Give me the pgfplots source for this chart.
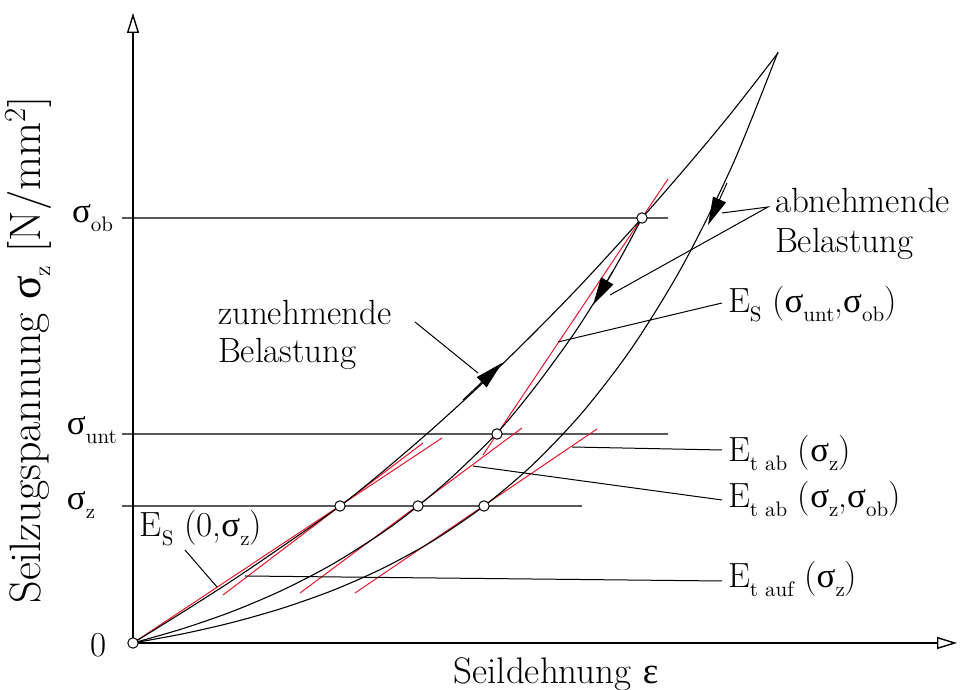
\documentclass[border=0pt]{standalone}
\usepackage{fontspec}
\usepackage{pgfplots}
\pgfplotsset{compat=1.18}
\usetikzlibrary{arrows.meta}
\newfontfamily\gr{Liberation Serif}
\definecolor{tanred}{RGB}{232,22,42}
\definecolor{levelgray}{RGB}{90,90,90}
\newcommand\sub[1]{\raisebox{-4.5pt}{\fontsize{10.5}{11}\selectfont #1}}
\newcommand\sig{{\gr σ}}
\tikzset{lbl/.style={inner sep=0pt, outer sep=0pt}}
\begin{document}
\fontsize{17.5}{18.5}\selectfont
\begin{tikzpicture}
\begin{axis}[
  scale only axis, x=0.5pt, y=0.5pt,
  xmin=-133, xmax=838, ymin=-47, ymax=643,
  hide axis, clip=false,
]
% stress levels
\addplot[levelgray, line width=0.7pt] coordinates {(-11,425)(535,425)};
\addplot[levelgray, line width=0.7pt] coordinates {(-11,209)(535,209)};
\addplot[levelgray, line width=0.7pt] coordinates {(-11,137)(449,137)};

% secant and tangent moduli
\addplot[tanred, line width=0.5pt] coordinates {(0,0)(309,205)};
\addplot[tanred, line width=0.5pt] coordinates {(90,48)(290,200)};
\addplot[tanred, line width=0.5pt] coordinates {(167,50)(389,215)};
\addplot[tanred, line width=0.5pt] coordinates {(222,50)(464,214)};
\addplot[tanred, line width=0.5pt] coordinates {(350,188)(535,464)};

% loading curve
\addplot[black, line width=0.55pt, smooth] coordinates {
  (0,0)(50,31)(100,63)(150,97)(207,137)(250,171.6)(300,214.6)(350,260.3)
  (400,309)(450,360.4)(509,425)(560,483.9)(600,532.2)(645,590)};
% unloading from sigma_ob
\addplot[black, line width=0.55pt, smooth] coordinates {
  (0,0)(50,14.4)(100,31.8)(150,53.1)(200,79.1)(250,110.7)(285,137)(320,166.9)
  (364,210)(400,253.3)(440,307.9)(470,354.9)(490,389.5)(509,425)};
% unloading from the peak
\addplot[black, line width=0.55pt, smooth] coordinates {
  (0,0)(50,9.2)(100,20.7)(150,35)(200,52.7)(250,74.8)(300,102.2)(351,137)
  (400,178.6)(450,231.3)(500,296.7)(550,378.1)(600,479.1)(645,591)};

% direction arrows
\addplot[black, line width=0.5pt, -{Triangle[length=14pt,width=7pt]}] coordinates {(330,243)(369,280)};
\addplot[black, line width=0.5pt, -{Triangle[length=14pt,width=7pt]}] coordinates {(480,372)(460,338)};
\addplot[black, line width=0.5pt, -{Triangle[length=14pt,width=7pt]}] coordinates {(594,460)(575,418)};

% axes
\addplot[black, line width=0.7pt, -{Triangle[open,length=10pt,width=6pt]}] coordinates {(0,0)(824,0)};
\addplot[black, line width=0.7pt, -{Triangle[open,length=10pt,width=6pt]}] coordinates {(0,0)(0,630)};

% leader lines
\addplot[black, line width=0.5pt] coordinates {(52,93)(84,56)};
\addplot[black, line width=0.5pt] coordinates {(112,67)(589,62)};
\addplot[black, line width=0.5pt] coordinates {(340,177)(589,143)};
\addplot[black, line width=0.5pt] coordinates {(439,196)(589,193)};
\addplot[black, line width=0.5pt] coordinates {(425,301)(589,340)};
\addplot[black, line width=0.5pt] coordinates {(477,348)(635,436)(589,430)};
\addplot[black, line width=0.5pt] coordinates {(282,321)(345,270)};

% marked points
\addplot[only marks, mark=*, mark size=2.6pt,
  mark options={fill=white, draw=black, line width=0.5pt}] coordinates {
  (0,0)(207,137)(285,137)(351,137)(364,209)(509,425)};

% level labels
\node[lbl, anchor=base west] at (-61,420) {\sig\sub{ob}};
\node[lbl, anchor=base west] at (-66,208) {\sig\sub{unt}};
\node[lbl, anchor=base west] at (-66,133) {\sig\sub{z}};
\node[lbl, anchor=base east] at (-26,-14) {0};

% annotations
\node[lbl, anchor=base west] at (85,318) {zunehmende};
\node[lbl, anchor=base west] at (85,280) {Belastung};
\node[lbl, anchor=base west] at (642,430) {abnehmende};
\node[lbl, anchor=base west] at (642,390) {Belastung};
\node[lbl, anchor=base west] at (595,330) {E\sub{S} (\sig\sub{unt},\sig\sub{ob})};
\node[lbl, anchor=base west] at (595,181) {E\sub{t ab} (\sig\sub{z})};
\node[lbl, anchor=base west] at (595,135) {E\sub{t ab} (\sig\sub{z},\sig\sub{ob})};
\node[lbl, anchor=base west] at (595,55) {E\sub{t auf} (\sig\sub{z})};
\node[lbl, anchor=base west] at (7,106) {E\sub{S} (0,\sig\sub{z})};

% axis titles
\node[lbl, anchor=base] at (423,-41) {\fontsize{18.5}{19}\selectfont Seildehnung {\gr ε}};
\node[lbl, rotate=90, anchor=center] at (-105,293)
  {\fontsize{22}{23}\selectfont Seilzugspannung \sig\raisebox{-5pt}{\fontsize{12}{12}\selectfont z} [N/mm\textsuperscript{2}]};

\coordinate (bl) at (rel axis cs:0,0);
\coordinate (tr) at (rel axis cs:1,1);
\end{axis}
\pgfresetboundingbox
\useasboundingbox (bl) rectangle (tr);
\end{tikzpicture}
\end{document}
